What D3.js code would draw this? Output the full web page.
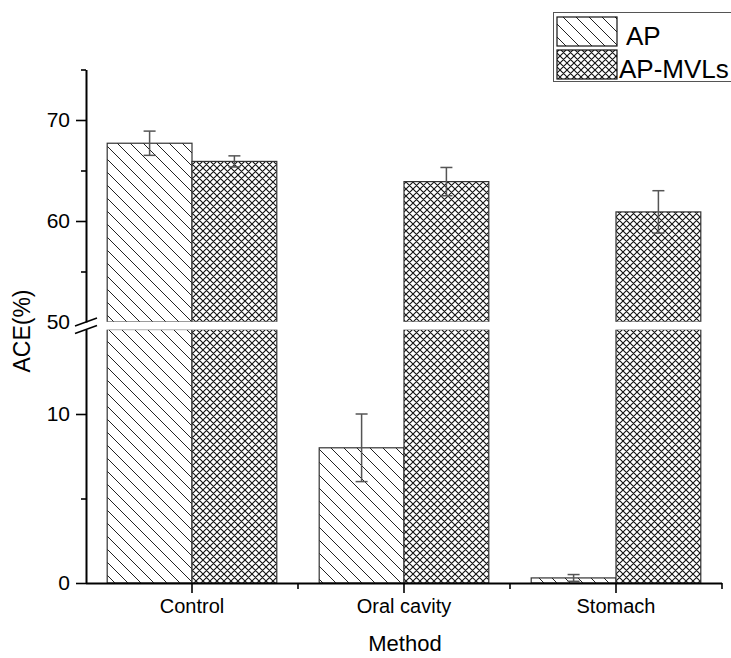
<!DOCTYPE html>
<html>
<head>
<meta charset="utf-8">
<script src="https://cdn.jsdelivr.net/npm/d3@7"></script>
<style>
  html, body { margin: 0; padding: 0; background: #fff; }
  svg { display: block; font-family: Arial, "Liberation Sans", sans-serif; }
</style>
</head>
<body>
<svg id="chart" width="731" height="658"></svg>
<script>
// ---- data ----
const categories = ["Control", "Oral cavity", "Stomach"];
const seriesNames = ["AP", "AP-MVLs"];
const apValues = [67.7, 8.0, 0.3];
const apErrors = [1.2, 2.0, 0.2];
const mvlValues = [65.9, 63.9, 60.9];
const mvlErrors = [0.55, 1.4, 2.1];
const upperMajorTicks = [50, 60, 70];
const upperMinorTicks = [55, 65, 75];
const lowerMajorTicks = [0, 10];
const lowerMinorTicks = [5];
const xTitle = "Method";
const yTitle = "ACE(%)";

const rows = categories.map((c, i) => ({
  cat: c,
  bars: [
    { s: seriesNames[0], v: apValues[i], e: apErrors[i] },
    { s: seriesNames[1], v: mvlValues[i], e: mvlErrors[i] }
  ]
}));

const svg = d3.select("#chart");

// ---- patterns ----
const defs = svg.append("defs");
const pHatch = defs.append("pattern").attr("id", "hatchAP")
  .attr("patternUnits", "userSpaceOnUse").attr("width", 13).attr("height", 13);
pHatch.append("rect").attr("width", 13).attr("height", 13).attr("fill", "#fff");
pHatch.append("path").attr("d", "M0,0L13,13M-4,9L4,17M9,-4L17,4")
  .attr("stroke", "#222").attr("stroke-width", 1);

const pCross = defs.append("pattern").attr("id", "hatchMVL")
  .attr("patternUnits", "userSpaceOnUse").attr("width", 7).attr("height", 7);
pCross.append("rect").attr("width", 7).attr("height", 7).attr("fill", "#fff");
pCross.append("path").attr("d", "M0,0L7,7M-2,5L2,9M5,-2L9,2M7,0L0,7M-2,2L2,-2M5,9L9,5")
  .attr("stroke", "#111").attr("stroke-width", 1.1);

const fillFor = { "AP": "url(#hatchAP)", "AP-MVLs": "url(#hatchMVL)" };

// ---- scales ----
const xLeft = 86, xRight = 722;
const x = d3.scaleBand().domain(categories).range([xLeft, xRight])
  .paddingInner(0.2).paddingOuter(0.1);
const xs = d3.scaleBand().domain(seriesNames).range([0, x.bandwidth()]).padding(0);

const yUpper = d3.scaleLinear().domain([50, 75]).range([322, 69.5]);
const yLower = d3.scaleLinear().domain([0, 15]).range([583, 329.5]);
const yFor = v => (v >= 50 ? yUpper(v) : yLower(v));

// ---- bars ----
const g = svg.append("g");
rows.forEach(r => {
  r.bars.forEach(b => {
    const bx = x(r.cat) + xs(b.s);
    const w = xs.bandwidth();
    const lowTop = yLower(Math.min(b.v, 15));
    g.append("rect").attr("x", bx).attr("y", lowTop)
      .attr("width", w).attr("height", yLower(0) - lowTop)
      .attr("fill", fillFor[b.s]).attr("stroke", "#333").attr("stroke-width", 1.2);
    if (b.v > 50) {
      const upTop = yUpper(b.v);
      g.append("rect").attr("x", bx).attr("y", upTop)
        .attr("width", w).attr("height", yUpper(50) - upTop)
        .attr("fill", fillFor[b.s]).attr("stroke", "#333").attr("stroke-width", 1.2);
    }
  });
});
// white gap over the break
svg.append("rect").attr("x", xLeft + 1).attr("y", yUpper(50) - 0.2)
  .attr("width", xRight - xLeft).attr("height", yLower(15) - yUpper(50) + 0.4)
  .attr("fill", "#fff");

// ---- error bars ----
const eg = svg.append("g").attr("stroke", "#555").attr("stroke-width", 1.5);
rows.forEach(r => {
  r.bars.forEach(b => {
    const cx = x(r.cat) + xs(b.s) + xs.bandwidth() / 2;
    const y1 = yFor(b.v + b.e), y2 = yFor(b.v - b.e);
    eg.append("line").attr("x1", cx).attr("x2", cx).attr("y1", y1).attr("y2", y2);
    eg.append("line").attr("x1", cx - 6).attr("x2", cx + 6).attr("y1", y1).attr("y2", y1);
    eg.append("line").attr("x1", cx - 6).attr("x2", cx + 6).attr("y1", y2).attr("y2", y2);
  });
});

// ---- axes ----
function styleAxis(sel, fontSize) {
  sel.selectAll(".domain").attr("stroke", "#000").attr("stroke-width", 2);
  sel.selectAll(".tick line").attr("stroke", "#000").attr("stroke-width", 1.6);
  sel.selectAll(".tick text").attr("fill", "#000").attr("font-size", fontSize)
    .attr("font-family", "Arial, 'Liberation Sans', sans-serif");
}

const upperAxis = svg.append("g").attr("transform", `translate(${xLeft},0)`)
  .call(d3.axisLeft(yUpper).tickValues(upperMajorTicks).tickSize(10).tickSizeOuter(0).tickPadding(6));
styleAxis(upperAxis, 21);
const upperMinor = svg.append("g").attr("transform", `translate(${xLeft},0)`)
  .call(d3.axisLeft(yUpper).tickValues(upperMinorTicks).tickSize(5).tickSizeOuter(0).tickFormat(""));
styleAxis(upperMinor, 21);
upperMinor.select(".domain").remove();

const lowerAxis = svg.append("g").attr("transform", `translate(${xLeft},0)`)
  .call(d3.axisLeft(yLower).tickValues(lowerMajorTicks).tickSize(10).tickSizeOuter(0).tickPadding(6));
styleAxis(lowerAxis, 21);
const lowerMinor = svg.append("g").attr("transform", `translate(${xLeft},0)`)
  .call(d3.axisLeft(yLower).tickValues(lowerMinorTicks).tickSize(5).tickSizeOuter(0).tickFormat(""));
styleAxis(lowerMinor, 21);
lowerMinor.select(".domain").remove();
upperAxis.selectAll(".tick").filter(d => d === 50).select("line").remove();

// break marks
const bk = svg.append("g").attr("stroke", "#000").attr("stroke-width", 1.6);
bk.append("line").attr("x1", xLeft - 11).attr("y1", yUpper(50) + 4).attr("x2", xLeft + 11).attr("y2", yUpper(50) - 4);
bk.append("line").attr("x1", xLeft - 11).attr("y1", yLower(15) + 4).attr("x2", xLeft + 11).attr("y2", yLower(15) - 4);

// x axis
const xAxis = svg.append("g").attr("transform", `translate(0,${yLower(0)})`)
  .call(d3.axisBottom(x).tickSize(10).tickSizeOuter(0).tickPadding(6));
styleAxis(xAxis, 20);
xAxis.select(".domain").attr("d", `M${xLeft},0.5H${xRight}`);
const xMinor = svg.append("g").attr("transform", `translate(0,${yLower(0)})`);
d3.range(1, categories.length + 1).forEach(i => {
  const px = x.range()[0] + x.step() * i;
  xMinor.append("line").attr("x1", px).attr("x2", px).attr("y1", 0).attr("y2", 6)
    .attr("stroke", "#000").attr("stroke-width", 1.6);
});

// titles
svg.append("text").attr("x", (xLeft + xRight) / 2 + 1).attr("y", 651)
  .attr("text-anchor", "middle").attr("font-size", 22).attr("fill", "#000").text(xTitle);
svg.append("text").attr("transform", "translate(30,331) rotate(-90)")
  .attr("text-anchor", "middle").attr("font-size", 23).attr("fill", "#000").text(yTitle);

// ---- legend ----
const lg = svg.append("g");
lg.append("rect").attr("x", 553.5).attr("y", 12.5).attr("width", 200).attr("height", 69)
  .attr("fill", "#fff").attr("stroke", "#555").attr("stroke-width", 1);
seriesNames.forEach((s, i) => {
  const yy = 17 + i * 33;
  lg.append("rect").attr("x", 557).attr("y", yy).attr("width", 60).attr("height", 29)
    .attr("fill", fillFor[s]).attr("stroke", "#111").attr("stroke-width", 1.2);
  lg.append("text").attr("x", i === 0 ? 626 : 619).attr("y", yy + 28)
    .attr("font-size", 26).attr("fill", "#000").text(s);
});
</script>
</body>
</html>
